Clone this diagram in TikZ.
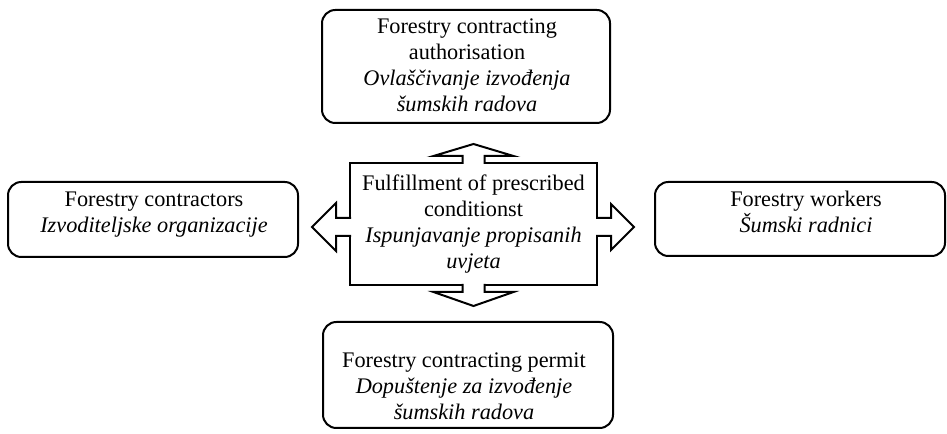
\documentclass[tikz,border=0pt]{standalone}
\usepackage{fontspec}
\setmainfont{Liberation Serif}

\tikzset{every picture/.style={line width=0.75pt}}
\tikzset{
  rbox/.style={draw, line width=1.5, rounded corners=10pt, inner sep=0pt},
  sbox/.style={draw, line width=1.5, inner sep=0pt},
  btxt/.style={align=center, inner sep=0.75pt, font=\fontsize{16.7}{19.5}\selectfont},
  blockarrow/.style={line width=1.5, fill=white, line join=miter}
}

\begin{document}
\begin{tikzpicture}[x=0.75pt,y=0.75pt,yscale=-1,xscale=1]
	\useasboundingbox (0,0) rectangle (947,434);
	
	%Rounded Rect
	\node [rbox, minimum width=216pt, minimum height=84.75pt] (authbox) at (466,66.5) {};
	%Rounded Rect
	\node [rbox, minimum width=217.5pt, minimum height=56.25pt] (contrbox) at (153,219.5) {};
	%Rounded Rect
	\node [rbox, minimum width=217.5pt, minimum height=55.5pt] (workbox) at (800,219) {};
	%Rounded Rect
	\node [rbox, minimum width=217.5pt, minimum height=79.5pt] (permbox) at (468,375) {};
	%Shape: Rectangle
	\node [sbox, minimum width=185.25pt, minimum height=91.5pt] (condbox) at (473.5,224) {};
	
	%Shape: Up Arrow
	\draw [blockarrow] (condbox.north) ++(-11,2) -- ++(0,-8) -- ++(-29,0) -- ++(40,-12) -- ++(40,12) -- ++(-29,0) -- ++(0,8) ;
	%Shape: Down Arrow
	\draw [blockarrow] (condbox.south) ++(-11,-2) -- ++(0,8) -- ++(-29,0) -- ++(40,14) -- ++(40,-14) -- ++(-29,0) -- ++(0,-8) ;
	%Shape: Left Arrow
	\draw [blockarrow] (condbox.west) ++(2,-6) -- ++(-15,0) -- ++(0,-15) -- ++(-24,24) -- ++(24,24) -- ++(0,-15) -- ++(15,0) ;
	%Shape: Right Arrow
	\draw [blockarrow] (condbox.east) ++(-2,-6) -- ++(15,0) -- ++(0,-14) -- ++(23,23) -- ++(-23,23) -- ++(0,-14) -- ++(-15,0) ;
	
	% Text Node
	\node [btxt] (authtxt) at (467,65.5) {Forestry contracting\\authorisation\\\textit{Ovlaščivanje izvođenja}\\\textit{šumskih radova}};
	% Text Node
	\node [btxt] (condtxt) at (473.5,224.5) {Fulfillment of prescribed\\conditionst\\\textit{Ispunjavanje propisanih}\\\textit{uvjeta}};
	% Text Node
	\node [btxt] (contrtxt) at (154,215) {Forestry contractors\\\textit{Izvoditeljske organizacije}};
	% Text Node
	\node [btxt] (worktxt) at (806,212) {Forestry workers\\\textit{Šumski radnici}};
	% Text Node
	\node [btxt] (permtxt) at (464,386.5) {Forestry contracting permit\\\textit{Dopuštenje za izvođenje}\\\textit{šumskih radova}};
	
\end{tikzpicture}
\end{document}
